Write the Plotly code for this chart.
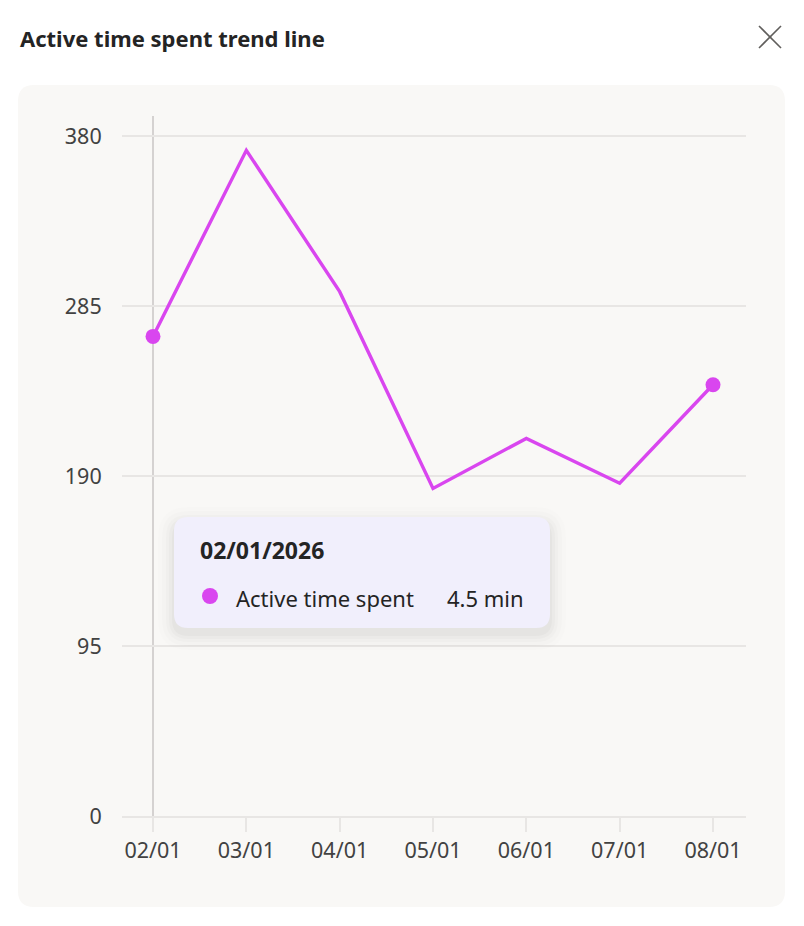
import plotly.graph_objects as go

# ---- data ----
months = ["02/01", "03/01", "04/01", "05/01", "06/01", "07/01", "08/01"]
active_time = [268, 372, 293, 183, 211, 186, 241]
y_ticks = [0, 95, 190, 285, 380]
title_text = "Active time spent trend line"
tooltip_date = "02/01/2026"
tooltip_series = "Active time spent"
tooltip_value = "4.5 min"

# page body has an 8px margin: figure origin sits at (8, 8) of the window
OX, OY = 8, 8
W, H = 804 - OX, 926 - OY
L, R, T, B = 122 - OX, 58, 116 - OY, 110
PW, PH = W - L - R, H - T - B

def px(x):
    return (x - OX - L) / PW

def py(y):
    return (H - B - (y - OY)) / PH

FONT = "Noto Sans"
LINE = "#d946ef"

marker_sizes = [15 if i in (0, len(months) - 1) else 0 for i in range(len(months))]

fig = go.Figure()
fig.add_trace(go.Scatter(
    x=list(range(len(months))), y=active_time, mode="lines+markers",
    line=dict(color=LINE, width=3.4),
    marker=dict(size=marker_sizes, color=LINE, opacity=1, line=dict(width=0)),
    hoverinfo="skip", showlegend=False,
))

def rrect_px(x0, y0, x1, y1, r):
    def P(x, y):
        return f"{px(x)},{py(y)}"
    return (f"M {P(x0+r,y0)} L {P(x1-r,y0)} Q {P(x1,y0)} {P(x1,y0+r)} "
            f"L {P(x1,y1-r)} Q {P(x1,y1)} {P(x1-r,y1)} L {P(x0+r,y1)} "
            f"Q {P(x0,y1)} {P(x0,y1-r)} L {P(x0,y0+r)} Q {P(x0,y0)} {P(x0+r,y0)} Z")

shapes = []
shapes.append(dict(type="path", xref="paper", yref="paper", layer="below",
                   path=rrect_px(18, 85, 785, 907, 16),
                   fillcolor="#f9f8f6", line=dict(width=0)))
# close X
shapes.append(dict(type="line", xref="paper", yref="paper",
                   x0=px(759), y0=py(26), x1=px(781), y1=py(48),
                   line=dict(color="#605e5c", width=1.6)))
shapes.append(dict(type="line", xref="paper", yref="paper",
                   x0=px(781), y0=py(26), x1=px(759), y1=py(48),
                   line=dict(color="#605e5c", width=1.6)))
# hover crosshair
shapes.append(dict(type="line", xref="x", yref="paper", layer="below",
                   x0=0, x1=0, y0=0, y1=1,
                   line=dict(color="#c8c6c4", width=1.5)))
# tooltip soft shadow
for grow, op in [(16, 0.008), (12, 0.012), (8, 0.016), (5, 0.02), (2, 0.025)]:
    shapes.append(dict(type="path", xref="paper", yref="paper",
                       path=rrect_px(174 - grow, 517 - grow + 6, 550 + grow, 628 + grow + 6, 14 + grow),
                       fillcolor=f"rgba(0,0,0,{op})", line=dict(width=0)))
shapes.append(dict(type="path", xref="paper", yref="paper",
                   path=rrect_px(174, 517, 550, 628, 14),
                   fillcolor="#f1effc", line=dict(width=0)))
shapes.append(dict(type="circle", xref="paper", yref="paper",
                   x0=px(202), x1=px(218), y0=py(588), y1=py(604),
                   fillcolor=LINE, line=dict(width=0)))

annotations = [
    dict(text=f"<b>{title_text}</b>", xref="paper", yref="paper",
         x=px(18), y=py(38), xanchor="left", yanchor="middle", showarrow=False,
         font=dict(family=FONT, size=22, color="#242424")),
    dict(text=f"<b>{tooltip_date}</b>", xref="paper", yref="paper",
         x=px(198), y=py(550), xanchor="left", yanchor="middle", showarrow=False,
         font=dict(family=FONT, size=23, color="#242424")),
    dict(text=tooltip_series, xref="paper", yref="paper",
         x=px(234), y=py(598), xanchor="left", yanchor="middle", showarrow=False,
         font=dict(family=FONT, size=22, color="#242424")),
    dict(text=tooltip_value, xref="paper", yref="paper",
         x=px(526), y=py(598), xanchor="right", yanchor="middle", showarrow=False,
         font=dict(family=FONT, size=22, color="#242424")),
]

fig.update_layout(
    width=W, height=H,
    margin=dict(l=L, r=R, t=T, b=B, pad=0),
    paper_bgcolor="white", plot_bgcolor="rgba(0,0,0,0)",
    font=dict(family=FONT, size=21.5, color="#424242"),
    shapes=shapes, annotations=annotations,
    xaxis=dict(
        range=[-(153 - 122) / 93.33, 6 + (746 - 713) / 93.33],
        tickvals=list(range(len(months))), ticktext=months,
        showgrid=False, zeroline=False,
        showline=True, linecolor="#e8e6e4", linewidth=2,
        ticks="outside", ticklen=14, tickcolor="#e8e6e4", tickwidth=1.5,
        tickfont=dict(family=FONT, size=21.5, color="#424242"),
        fixedrange=True,
    ),
    yaxis=dict(
        range=[0, 380 + 20 * 380 / 680],
        tickvals=y_ticks,
        showgrid=True, gridcolor="#e8e6e4", gridwidth=1.5,
        zeroline=False, showline=False,
        ticks="outside", ticklen=15, tickcolor="rgba(0,0,0,0)",
        tickfont=dict(family=FONT, size=21.5, color="#424242"),
        fixedrange=True,
    ),
)

fig.write_html("out.html", config={"displayModeBar": False})
